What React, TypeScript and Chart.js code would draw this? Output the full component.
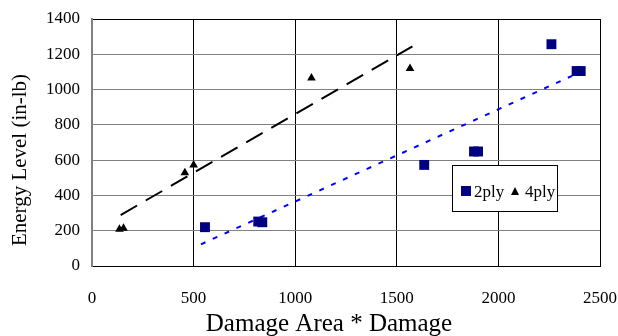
import React, { useEffect, useRef } from "react";
import { Chart, registerables } from "chart.js";

Chart.register(...registerables);

// 2-ply specimens (squares)
const ply2X = [556, 818, 838, 1635, 1880, 1900, 2261, 2385, 2405];
const ply2Y = [220, 252, 248, 573, 649, 649, 1257, 1105, 1105];
// 4-ply specimens (triangles)
const ply4X = [135, 155, 457, 500, 1080, 1565];
const ply4Y = [208, 214, 528, 573, 1065, 1119];
// Trend lines (end points)
const trend4X = [141, 1577];
const trend4Y = [289, 1245];
const trend2X = [536, 2363];
const trend2Y = [123, 1078];

const xTicks = [0, 500, 1000, 1500, 2000, 2500];
const yTicks = [0, 200, 400, 600, 800, 1000, 1200, 1400];
const xTitle = "Damage Area * Damage";
const yTitle = "Energy Level (in-lb)";
const legendLabels = ["2ply", "4ply"];

const SERIF = "'Liberation Serif', 'Times New Roman', serif";

const pts = (xs: number[], ys: number[]) => xs.map((x, i) => ({ x, y: ys[i] }));

const overlayPlugin = {
  id: "overlay",
  afterDraw(chart: any) {
    const ctx = chart.ctx as CanvasRenderingContext2D;
    const a = chart.chartArea;
    ctx.save();
    // axis titles
    ctx.fillStyle = "#000";
    ctx.font = `25px ${SERIF}`;
    ctx.textAlign = "center";
    ctx.textBaseline = "alphabetic";
    ctx.fillText(xTitle, 329, 331);
    ctx.save();
    ctx.translate(20, 160);
    ctx.rotate(-Math.PI / 2);
    ctx.font = `21px ${SERIF}`;
    ctx.textBaseline = "middle";
    ctx.fillText(yTitle, 0, 0);
    ctx.restore();

    // legend box
    const lx = 452;
    const ly = 165;
    const lw = 105;
    const lh = 46;
    ctx.fillStyle = "#fff";
    ctx.fillRect(lx, ly, lw, lh);
    ctx.strokeStyle = "#000";
    ctx.lineWidth = 1;
    ctx.strokeRect(lx + 0.5, ly + 0.5, lw, lh);
    ctx.fillStyle = "#000080";
    ctx.fillRect(lx + 9, ly + 21, 10, 10);
    ctx.fillStyle = "#000";
    ctx.font = `17px ${SERIF}`;
    ctx.textAlign = "left";
    ctx.textBaseline = "alphabetic";
    ctx.fillText(legendLabels[0], lx + 22, ly + 32);
    ctx.beginPath();
    ctx.moveTo(lx + 63, ly + 22);
    ctx.lineTo(lx + 67, ly + 30);
    ctx.lineTo(lx + 59, ly + 30);
    ctx.closePath();
    ctx.fill();
    ctx.fillText(legendLabels[1], lx + 73, ly + 32);
    ctx.restore();
    void a;
  },
};

export default function App() {
  const ref = useRef<HTMLCanvasElement>(null);
  useEffect(() => {
    const chart = new Chart(ref.current!, {
      type: "scatter",
      data: {
        datasets: [
          {
            label: "2ply",
            data: pts(ply2X, ply2Y),
            pointStyle: "rect",
            pointRadius: 7,
            backgroundColor: "#000080",
            borderColor: "#000080",
            borderWidth: 0,
          },
          {
            label: "4ply",
            data: pts(ply4X, ply4Y),
            pointStyle: "triangle",
            pointRadius: 5,
            backgroundColor: "#000",
            borderColor: "#000",
            borderWidth: 0,
          },
          {
            label: "trend4",
            data: pts(trend4X, trend4Y),
            showLine: true,
            pointRadius: 0,
            borderColor: "#000",
            borderWidth: 2,
            borderDash: [19, 10],
          },
          {
            label: "trend2",
            data: pts(trend2X, trend2Y),
            showLine: true,
            pointRadius: 0,
            borderColor: "#0000ff",
            borderWidth: 2,
            borderDash: [5, 8],
          },
        ],
      },
      options: {
        animation: false,
        responsive: false,
        maintainAspectRatio: false,
        layout: { padding: { top: 19, right: 18, left: 0, bottom: 0 } },
        plugins: { legend: { display: false }, tooltip: { enabled: false } },
        scales: {
          x: {
            type: "linear",
            min: 0,
            max: 2500,
            afterBuildTicks: (s: any) => {
              s.ticks = xTicks.map((v) => ({ value: v }));
            },
            afterFit: (s: any) => {
              s.height = 70;
              s.paddingLeft = 0;
              s.paddingRight = 0;
            },
            grid: { color: "#000", lineWidth: 1, drawTicks: false },
            border: { color: "#000", width: 1 },
            ticks: {
              color: "#000",
              padding: 22,
              maxRotation: 0,
              font: { family: SERIF, size: 17 },
              callback: (v: any) => String(v),
            },
          },
          y: {
            type: "linear",
            min: 0,
            max: 1400,
            afterBuildTicks: (s: any) => {
              s.ticks = yTicks.map((v) => ({ value: v }));
            },
            afterFit: (s: any) => {
              s.width = 92;
              s.paddingTop = 0;
              s.paddingBottom = 0;
            },
            grid: {
              color: (c: any) => (c.tick && c.tick.value === 1400 ? "#000" : "#808080"),
              lineWidth: 1,
              drawTicks: false,
            },
            border: { color: "#808080", width: 2 },
            ticks: {
              color: "#000",
              padding: 12,
              font: { family: SERIF, size: 17 },
              callback: (v: any) => String(v),
            },
          },
        },
      },
      plugins: [overlayPlugin],
    });
    return () => chart.destroy();
  }, []);
  return (
    <div style={{ position: "absolute", left: 0, top: 0, width: 618, height: 336, background: "#fff" }}>
      <canvas ref={ref} width={618} height={336} style={{ width: 618, height: 336 }} />
    </div>
  );
}
